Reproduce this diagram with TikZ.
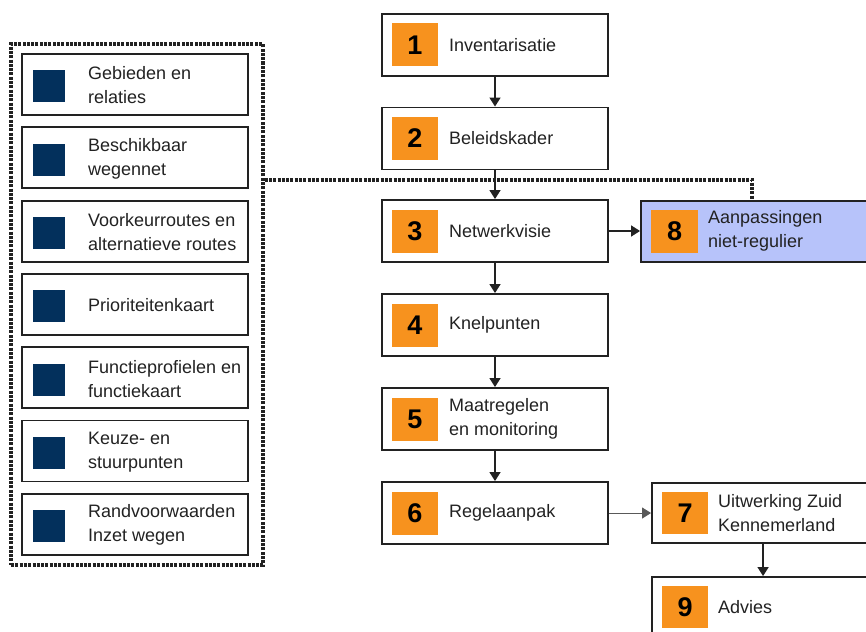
\documentclass[tikz,border=0pt]{standalone}
\usepackage{fontspec}
\setmainfont{Liberation Sans}
\usetikzlibrary{arrows.meta}

\definecolor{ink}{HTML}{222222}
\definecolor{steporange}{HTML}{F7921E}
\definecolor{navy}{HTML}{03305C}
\definecolor{lavender}{HTML}{B7C3FA}

\tikzset{
  stage/.style={draw=ink, line width=1.9pt, fill=white, minimum width=226pt,
    minimum height=62pt, inner sep=0pt},
  numtag/.style={fill=steporange, minimum width=46pt, minimum height=43pt,
    inner sep=0pt, text=black, font=\fontsize{27}{27}\selectfont\bfseries},
  steptext/.style={anchor=west, align=left, inner sep=0pt, text=ink,
    font=\fontsize{18}{24}\selectfont},
  topicbox/.style={draw=ink, line width=1.9pt, fill=white, minimum width=226pt,
    minimum height=61pt, inner sep=0pt},
  topicmark/.style={fill=navy, minimum size=32pt, inner sep=0pt},
  flowarrow/.style={-{Triangle[length=9pt,width=11pt]}, line width=1.5pt, draw=ink},
  dotline/.style={line width=3.2pt, dash pattern=on 3pt off 1.3pt, draw=ink}
}

\begin{document}
\begin{tikzpicture}[x=1pt,y=-1pt]
\clip (0,0) rectangle (866,631);
\fill[white] (0,0) rectangle (866,631);

% dotted frame around the topic list
\node[dotline, draw, minimum width=252pt, minimum height=521pt, inner sep=0pt]
  (frame) at (137,304.5) {};

% topic list
\foreach \i/\txt in {1/{Gebieden en\\relaties},
                     2/{Beschikbaar\\wegennet},
                     3/{Voorkeurroutes en\\alternatieve routes},
                     4/{Prioriteitenkaart},
                     5/{Functieprofielen en\\functiekaart},
                     6/{Keuze- en\\stuurpunten},
                     7/{Randvoorwaarden\\Inzet wegen}}{
  \pgfmathsetmacro\yc{84.5+73.3*(\i-1)}
  \node[topicbox] (p\i) at (135,\yc) {};
  \node[topicmark] (m\i) at (49,\yc+2) {};
  \node[steptext] (q\i) at (88,\yc+1) {\txt};
}

% main steps
\node[stage] (s1) at (495,45) {};
\node[numtag] (n1) at (415,45) {1};
\node[steptext] (t1) at (449,45) {Inventarisatie};

\node[stage] (s2) at (495,138.5) {};
\node[numtag] (n2) at (415,138.5) {2};
\node[steptext] (t2) at (449,138.5) {Beleidskader};

\node[stage] (s3) at (495,231) {};
\node[numtag] (n3) at (415,231) {3};
\node[steptext] (t3) at (449,231) {Netwerkvisie};

\node[stage] (s4) at (495,325) {};
\node[numtag] (n4) at (415,325) {4};
\node[steptext] (t4) at (449,325) {Knelpunten};

\node[stage] (s5) at (495,419) {};
\node[numtag] (n5) at (415,419) {5};
\node[steptext] (t5) at (449,419) {Maatregelen\\en monitoring};

\node[stage] (s6) at (495,513) {};
\node[numtag] (n6) at (415,513) {6};
\node[steptext] (t6) at (449,513) {Regelaanpak};

% side branches
\node[stage, fill=lavender, minimum width=239pt, minimum height=61pt] (s8) at (760.5,231.5) {};
\node[numtag, minimum width=47pt] (n8) at (674.5,231) {8};
\node[steptext] (t8) at (708,231) {Aanpassingen\\niet-regulier};

\node[stage, minimum width=228pt, minimum height=60pt] (s7) at (766,513) {};
\node[numtag, minimum height=42pt] (n7) at (685,513) {7};
\node[steptext] (t7) at (718,513) {Uitwerking Zuid\\Kennemerland};

\node[stage, minimum width=228pt, minimum height=63pt] (s9) at (766,608.5) {};
\node[numtag, minimum height=42pt] (n9) at (685,607) {9};
\node[steptext] (t9) at (718,607) {Advies};

% dotted link from the topic list to step 8
\draw[dotline] (frame.east |- 0,180) -| ([xshift=112pt]s8.north west);

% flow arrows
\draw[flowarrow] (s1) -- (s2);
\draw[flowarrow] (s2) -- (s3);
\draw[flowarrow] (s3) -- (s4);
\draw[flowarrow] (s4) -- (s5);
\draw[flowarrow] (s5) -- (s6);
\draw[flowarrow] (s3.east) -- (s8.west |- s3.east);
\draw[flowarrow, line width=0.9pt, draw=gray!70!black] (s6.east) -- (s7.west |- s6.east);
\draw[flowarrow] ([xshift=112pt]s7.south west) -- ([xshift=112pt]s9.north west);
\end{tikzpicture}
\end{document}
